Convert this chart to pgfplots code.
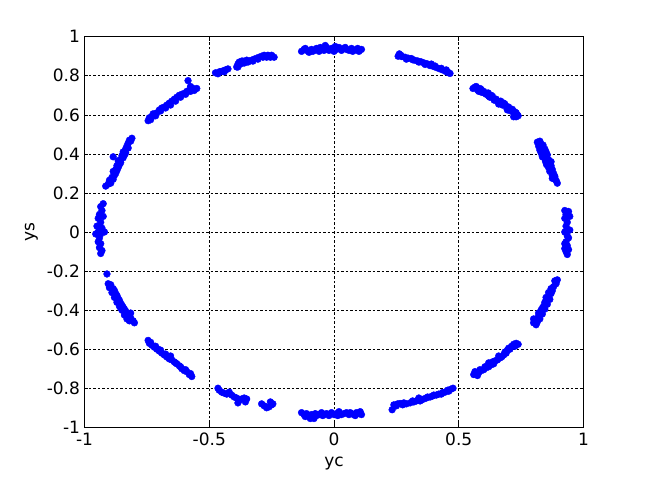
\documentclass[border=0pt]{standalone}
\usepackage{fontspec}
\setmainfont{DejaVu Sans}
\usepackage{pgfplots}
\pgfplotsset{compat=1.18}
\begin{document}
\begin{tikzpicture}[font=\fontsize{17}{20}\selectfont]
\useasboundingbox (-84.5pt,-54.7pt) rectangle (560.5pt,427.3pt);
\begin{axis}[
  scale only axis,
  width=499pt, height=390.6pt,
  xmin=-1, xmax=1, ymin=-1, ymax=1,
  xtick={-1,-0.5,0,0.5,1},
  ytick={-1,-0.8,-0.6,-0.4,-0.2,0,0.2,0.4,0.6,0.8,1},
  xticklabels={-1,-0.5,0,0.5,1},
  yticklabels={-1,-0.8,-0.6,-0.4,-0.2,0,0.2,0.4,0.6,0.8,1},
  /pgf/number format/assume math mode=true,
  tick align=inside,
  major tick length=4pt,
  tick style={black, line width=0.6pt},
  grid=major,
  major grid style={black, line width=0.6pt, dash pattern=on 2.5pt off 2pt},
  axis line style={black, line width=1pt},
  xlabel={yc}, ylabel={ys},
  tick label style={font=\fontsize{17}{20}\selectfont},
  label style={font=\fontsize{17}{20}\selectfont},
  xticklabel style={yshift=-2pt},
  yticklabel style={xshift=-1pt},
  xlabel style={yshift=-4pt},
  ylabel style={yshift=2pt},
]
\addplot[only marks, mark=*, mark size=3.4pt, color=blue, mark options={fill=blue, draw=blue}] coordinates {
(-0.13,0.925) (-0.12,0.935) (-0.11,0.93) (-0.10,0.92) (-0.09,0.935) (-0.08,0.93) (-0.07,0.94) (-0.06,0.925) (-0.05,0.935) (-0.04,0.93) (-0.03,0.945) (-0.02,0.93) (-0.01,0.94) (0.00,0.925) (0.01,0.935) (0.02,0.945) (0.03,0.93) (0.04,0.94) (0.05,0.935) (0.06,0.93) (0.07,0.94) (0.08,0.93) (0.09,0.935) (0.10,0.925) (0.11,0.935) (0.005,0.95) (-0.035,0.955)
(-0.115,0.94) (-0.085,0.925) (0.045,0.945) (0.075,0.925) (-0.055,0.945) (0.095,0.94)
(0.257,0.900) (0.262,0.912) (0.272,0.898) (0.285,0.895) (0.298,0.890) (0.31,0.888) (0.322,0.880) (0.335,0.876) (0.348,0.872) (0.36,0.866) (0.372,0.862) (0.385,0.852) (0.398,0.848) (0.41,0.842) (0.422,0.836) (0.435,0.830) (0.448,0.822) (0.458,0.816) (0.465,0.812) (0.45,0.83) (0.39,0.86)
(0.268,0.905) (0.29,0.885) (0.315,0.882) (0.34,0.87) (0.365,0.858) (0.405,0.85) (0.43,0.838) (0.455,0.82)
(0.557,0.735) (0.565,0.742) (0.575,0.728) (0.585,0.735) (0.592,0.715) (0.60,0.72) (0.61,0.705) (0.618,0.712) (0.625,0.69) (0.635,0.695) (0.642,0.675) (0.65,0.68) (0.66,0.665) (0.668,0.67) (0.675,0.65) (0.685,0.655) (0.692,0.635) (0.70,0.64) (0.708,0.62) (0.715,0.628) (0.722,0.605) (0.73,0.61) (0.738,0.595) (0.72,0.59)
(0.57,0.745) (0.59,0.73) (0.605,0.71) (0.63,0.70) (0.655,0.672) (0.68,0.66) (0.70,0.63) (0.725,0.615) (0.735,0.6) (0.58,0.72) (0.62,0.695) (0.66,0.655) (0.695,0.625) (0.73,0.59)
(0.815,0.46) (0.825,0.465) (0.83,0.45) (0.82,0.44) (0.835,0.43) (0.845,0.425) (0.83,0.405) (0.84,0.39) (0.855,0.395) (0.845,0.375) (0.86,0.37) (0.865,0.355) (0.852,0.345) (0.87,0.34) (0.875,0.32) (0.865,0.31) (0.88,0.30) (0.885,0.285) (0.875,0.275) (0.89,0.265) (0.895,0.25) (0.87,0.36)
(0.82,0.455) (0.838,0.445) (0.825,0.42) (0.85,0.41) (0.848,0.36) (0.86,0.33) (0.875,0.29) (0.885,0.27) (0.87,0.33) (0.835,0.385)
(0.925,0.11) (0.94,0.105) (0.93,0.09) (0.945,0.08) (0.925,0.07) (0.935,0.05) (0.93,0.03) (0.945,0.01) (0.925,0.0) (0.935,-0.02) (0.94,-0.03) (0.93,-0.05) (0.925,-0.06) (0.935,-0.07) (0.94,-0.09) (0.93,-0.10) (0.935,-0.115) (0.925,-0.085)
(0.895,-0.245) (0.885,-0.25) (0.89,-0.265) (0.88,-0.28) (0.875,-0.30) (0.87,-0.315) (0.86,-0.33) (0.865,-0.345) (0.85,-0.35) (0.855,-0.37) (0.84,-0.38) (0.845,-0.395) (0.83,-0.40) (0.835,-0.42) (0.82,-0.43) (0.825,-0.445) (0.81,-0.45) (0.80,-0.465) (0.81,-0.475) (0.80,-0.445)
(0.89,-0.255) (0.87,-0.29) (0.86,-0.31) (0.845,-0.36) (0.835,-0.39) (0.82,-0.415) (0.815,-0.46) (0.85,-0.335)
(0.738,-0.575) (0.73,-0.57) (0.72,-0.575) (0.712,-0.585) (0.705,-0.60) (0.695,-0.605) (0.69,-0.62) (0.68,-0.63) (0.672,-0.64) (0.665,-0.645) (0.655,-0.655) (0.645,-0.66) (0.64,-0.675) (0.63,-0.68) (0.62,-0.69) (0.61,-0.695) (0.60,-0.705) (0.59,-0.71) (0.58,-0.72) (0.57,-0.725) (0.56,-0.73) (0.565,-0.715) (0.62,-0.67)
(0.725,-0.585) (0.70,-0.595) (0.685,-0.615) (0.66,-0.635) (0.635,-0.665) (0.605,-0.69) (0.585,-0.705) (0.575,-0.735)
(0.477,-0.80) (0.468,-0.805) (0.455,-0.81) (0.445,-0.82) (0.435,-0.822) (0.42,-0.83) (0.41,-0.835) (0.395,-0.84) (0.385,-0.845) (0.37,-0.85) (0.36,-0.855) (0.35,-0.86) (0.34,-0.85) (0.33,-0.865) (0.32,-0.87) (0.305,-0.875) (0.29,-0.88) (0.275,-0.885) (0.265,-0.878) (0.25,-0.89) (0.24,-0.885) (0.233,-0.91)
(0.46,-0.815) (0.43,-0.83) (0.40,-0.835) (0.375,-0.845) (0.345,-0.865) (0.315,-0.865) (0.28,-0.875) (0.255,-0.88)
(-0.13,-0.925) (-0.12,-0.935) (-0.11,-0.93) (-0.10,-0.945) (-0.09,-0.935) (-0.08,-0.955) (-0.07,-0.94) (-0.06,-0.935) (-0.05,-0.925) (-0.04,-0.935) (-0.03,-0.93) (-0.02,-0.94) (-0.01,-0.925) (0.0,-0.935) (0.01,-0.93) (0.02,-0.92) (0.03,-0.935) (0.04,-0.93) (0.05,-0.925) (0.06,-0.935) (0.07,-0.93) (0.08,-0.935) (0.09,-0.925) (0.10,-0.93) (0.11,-0.935) (0.105,-0.92)
(-0.115,-0.945) (-0.075,-0.93) (0.015,-0.94) (0.065,-0.925) (-0.045,-0.94) (0.085,-0.94) (-0.095,-0.955)
(-0.29,-0.88) (-0.28,-0.89) (-0.27,-0.90) (-0.26,-0.895) (-0.25,-0.885) (-0.255,-0.87) (-0.245,-0.88)
(-0.465,-0.80) (-0.46,-0.81) (-0.45,-0.82) (-0.44,-0.825) (-0.43,-0.83) (-0.42,-0.82) (-0.41,-0.835) (-0.40,-0.845) (-0.39,-0.85) (-0.38,-0.86) (-0.37,-0.855) (-0.36,-0.85) (-0.35,-0.855) (-0.355,-0.87) (-0.385,-0.875)
(-0.745,-0.555) (-0.74,-0.57) (-0.73,-0.58) (-0.72,-0.59) (-0.71,-0.60) (-0.70,-0.61) (-0.69,-0.62) (-0.68,-0.63) (-0.67,-0.64) (-0.66,-0.65) (-0.65,-0.655) (-0.64,-0.665) (-0.63,-0.675) (-0.62,-0.685) (-0.61,-0.70) (-0.60,-0.71) (-0.59,-0.715) (-0.58,-0.73) (-0.57,-0.74) (-0.655,-0.635)
(-0.735,-0.565) (-0.715,-0.585) (-0.695,-0.605) (-0.675,-0.625) (-0.665,-0.64) (-0.635,-0.67) (-0.615,-0.69) (-0.595,-0.705) (-0.575,-0.725) (-0.705,-0.6)
(-0.91,-0.215) (-0.905,-0.265) (-0.895,-0.27) (-0.90,-0.285) (-0.885,-0.29) (-0.89,-0.31) (-0.875,-0.315) (-0.88,-0.335) (-0.865,-0.34) (-0.87,-0.36) (-0.855,-0.365) (-0.86,-0.38) (-0.845,-0.385) (-0.85,-0.40) (-0.835,-0.405) (-0.84,-0.425) (-0.825,-0.43) (-0.83,-0.445) (-0.82,-0.455) (-0.805,-0.455) (-0.80,-0.465) (-0.815,-0.415)
(-0.895,-0.28) (-0.88,-0.30) (-0.87,-0.325) (-0.86,-0.35) (-0.85,-0.375) (-0.84,-0.395) (-0.83,-0.42) (-0.815,-0.44) (-0.875,-0.33) (-0.855,-0.39)
(-0.925,0.145) (-0.935,0.13) (-0.93,0.11) (-0.94,0.09) (-0.925,0.08) (-0.945,0.07) (-0.935,0.05) (-0.95,0.03) (-0.93,0.02) (-0.945,0.0) (-0.955,-0.01) (-0.935,-0.01) (-0.94,-0.03) (-0.945,-0.05) (-0.935,-0.06) (-0.94,-0.08) (-0.93,-0.095) (-0.935,-0.11) (-0.92,0.0)
(-0.915,0.235) (-0.905,0.245) (-0.895,0.25) (-0.90,0.265) (-0.89,0.28) (-0.88,0.29) (-0.885,0.31) (-0.875,0.32) (-0.87,0.34) (-0.86,0.345) (-0.865,0.365) (-0.855,0.37) (-0.85,0.39) (-0.84,0.395) (-0.845,0.41) (-0.835,0.425) (-0.83,0.44) (-0.825,0.455) (-0.815,0.465) (-0.81,0.48) (-0.885,0.385) (-0.84,0.395)
(-0.9,0.255) (-0.885,0.27) (-0.875,0.30) (-0.865,0.33) (-0.855,0.355) (-0.845,0.38) (-0.835,0.405) (-0.825,0.43) (-0.82,0.47) (-0.87,0.315)
(-0.745,0.57) (-0.74,0.585) (-0.73,0.59) (-0.725,0.605) (-0.71,0.61) (-0.70,0.625) (-0.69,0.635) (-0.68,0.64) (-0.67,0.65) (-0.66,0.66) (-0.65,0.67) (-0.64,0.68) (-0.63,0.69) (-0.62,0.70) (-0.61,0.705) (-0.60,0.71) (-0.59,0.72) (-0.58,0.725) (-0.57,0.735) (-0.56,0.725) (-0.55,0.735) (-0.585,0.775) (-0.575,0.745)
(-0.735,0.575) (-0.715,0.595) (-0.695,0.62) (-0.675,0.635) (-0.655,0.65) (-0.635,0.67) (-0.615,0.69) (-0.595,0.705) (-0.575,0.72) (-0.565,0.735)
(-0.475,0.815) (-0.465,0.81) (-0.455,0.82) (-0.445,0.825) (-0.435,0.83) (-0.425,0.835) (-0.39,0.845) (-0.385,0.86) (-0.38,0.87) (-0.37,0.875) (-0.36,0.865) (-0.35,0.88) (-0.34,0.875) (-0.33,0.88) (-0.32,0.885) (-0.31,0.89) (-0.30,0.895) (-0.29,0.90) (-0.28,0.905) (-0.27,0.895) (-0.26,0.90) (-0.25,0.905) (-0.24,0.895) (-0.385,0.845)
(-0.46,0.82) (-0.44,0.82) (-0.375,0.86) (-0.365,0.875) (-0.345,0.87) (-0.325,0.875) (-0.305,0.885) (-0.285,0.895) (-0.265,0.905) (-0.255,0.895)
};
\end{axis}
\end{tikzpicture}
\end{document}
